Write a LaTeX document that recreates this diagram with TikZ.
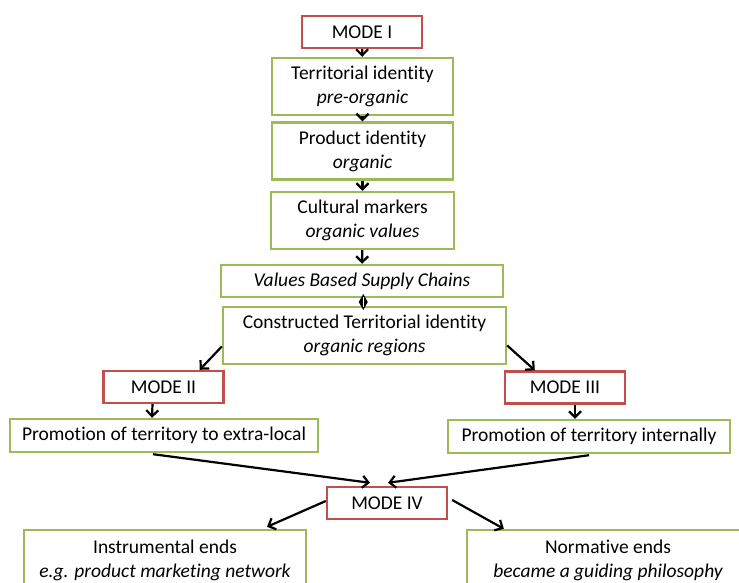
\documentclass[tikz,border=0pt]{standalone}
\usepackage{fontspec}
\setmainfont{Carlito}[Ligatures=NoCommon]
\usepackage{tikz}
\usetikzlibrary{calc,arrows.meta,positioning}
\definecolor{ModeRed}{HTML}{C0504D}
\definecolor{StageGreen}{HTML}{9BBB59}

\begin{document}
\begin{tikzpicture}[x=1pt,y=-1pt,
    box/.style={draw,line width=2.4pt,fill=white,inner sep=0pt,align=center,
      font=\fontsize{19.5}{24}\selectfont},
    modebox/.style={box,draw=ModeRed,minimum width=120pt,minimum height=32pt},
    stagebox/.style={box,draw=StageGreen},
    flow/.style={line width=2.2pt,-{Straight Barb[length=6pt,width=12pt]}}]
  \clip (0,0) rectangle (739,583);
  % main column
  \node[modebox] (modeI) at (362,32) {MODE I};
  \node[stagebox,minimum width=181pt,minimum height=57pt] (terr) at (362.5,86.5)
    {Territorial identity\\\itshape pre-organic};
  \node[stagebox,minimum width=181pt,minimum height=57pt] (prod) at (362.5,151)
    {Product identity\\\itshape organic};
  \node[stagebox,minimum width=183pt,minimum height=57pt] (cult) at (362.5,220.5)
    {Cultural markers\\\itshape organic values};
  \node[stagebox,minimum width=282pt,minimum height=32pt] (vbsc) at (362,281)
    {\itshape Values Based Supply Chains};
  \node[stagebox,minimum width=283pt,minimum height=57pt] (cons) at (364.5,335.5)
    {Constructed Territorial identity\\\itshape organic regions};
  % two branches
  \node[modebox] (modeII) at (163.5,387) {MODE II};
  \node[modebox] (modeIII) at (565,387.5) {MODE III};
  \node[stagebox,minimum width=308pt,minimum height=33pt] (promE) at (164,435.5)
    {Promotion of territory to extra-local};
  \node[stagebox,minimum width=282pt,minimum height=33pt] (promI) at (589,436.5)
    {Promotion of territory internally};
  % joining mode and its ends
  \node[modebox] (modeIV) at (387,503) {MODE IV};
  \node[stagebox,minimum width=282pt,minimum height=60pt] (instr) at (165,560)
    {Instrumental ends\\\itshape e.g. product marketing network};
  \node[stagebox,minimum width=282pt,minimum height=60pt] (norm) at (608,560)
    {Normative ends\\\itshape became a guiding philosophy};

  \draw[flow] (modeI) -- (terr);
  \draw[flow] (terr) -- (prod);
  \draw[flow] (prod) -- (cult);
  \draw[flow] (cult) -- (vbsc);
  % two-way link
  \coordinate (link) at ($(vbsc.south)!0.5!(cons.north)$);
  \fill (link) ++(0,-8) -- ++(4.5,8) -- ++(-4.5,8) -- ++(-4.5,-8) -- cycle;
  \draw[white,line width=1pt] (link) ++(0,-5) -- ++(0,10);
  \draw[flow] ($(cons.west)+(0,11)$) -- ($(modeII.north east)+(-25,0)$);
  \draw[flow] ($(cons.east)+(0,10)$) -- ($(modeIII.north west)+(31,0)$);
  \draw[flow] ($(modeII.south)+(-11,0)$) -- ($(promE.north)+(-12,0)$);
  \draw[flow] ($(modeIII.south)+(10,0)$) -- ($(promI.north)+(-14,0)$);
  \draw[flow] ($(promE.south)+(-11,1)$) -- ($(modeIV.north)+(-17,-3)$);
  \draw[flow] ($(promI.south)+(0,1)$) -- ($(modeIV.north)+(1,-3)$);
  \draw[flow] ($(modeIV.west)+(0,-2)$) -- ($(instr.north)+(102,-2)$);
  \draw[flow] ($(modeIV.east)+(4,-3)$) -- ($(norm.north west)+(38,0)$);
\end{tikzpicture}
\end{document}
